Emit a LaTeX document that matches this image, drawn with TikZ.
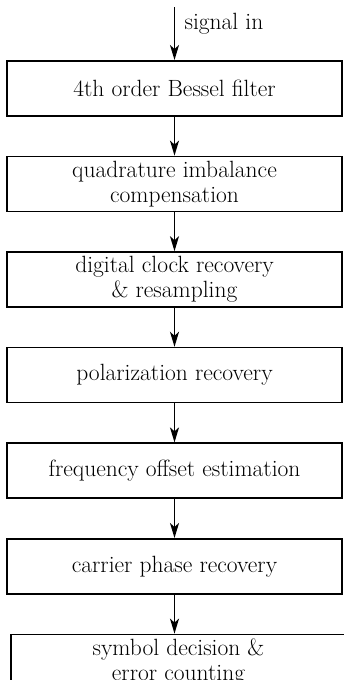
\documentclass[tikz,border=0pt]{standalone}
\usetikzlibrary{positioning,arrows.meta}

\begin{document}
\begin{tikzpicture}[x=1pt,y=1pt,
  font=\fontsize{23.5}{25}\selectfont,
  stage/.style={draw,line width=1.6pt,align=center,minimum width=335pt,minimum height=55pt,inner sep=0pt},
  flow/.style={-{Stealth[length=15pt,width=9pt,inset=4pt]},line width=1.5pt},
]
\useasboundingbox (0,0) rectangle (344,-680);
\node[stage,anchor=north] (bessel) at (174.5,-60) {4th order Bessel filter};
\node[stage,below=39pt of bessel] (iqcomp) {quadrature imbalance\\compensation};
\node[stage,below=39pt of iqcomp] (clock) {digital clock recovery\\\& resampling};
\node[stage,below=39pt of clock] (pol) {polarization recovery};
\node[stage,below=39pt of pol] (freq) {frequency offset estimation};
\node[stage,below=39pt of freq] (cpr) {carrier phase recovery};
\node[stage,below=39pt of cpr,xshift=4pt] (decide) {symbol decision \&\\error counting};
\coordinate (sigin) at (174.5,-7);
\draw[flow] (sigin) -- node[right=6pt,pos=0.32]{signal in} (bessel);
\draw[flow] (bessel) -- (iqcomp);
\draw[flow] (iqcomp) -- (clock);
\draw[flow] (clock) -- (pol);
\draw[flow] (pol) -- (freq);
\draw[flow] (freq) -- (cpr);
\draw[flow] (cpr.south) -- (cpr.south|-decide.north);
\end{tikzpicture}
\end{document}
